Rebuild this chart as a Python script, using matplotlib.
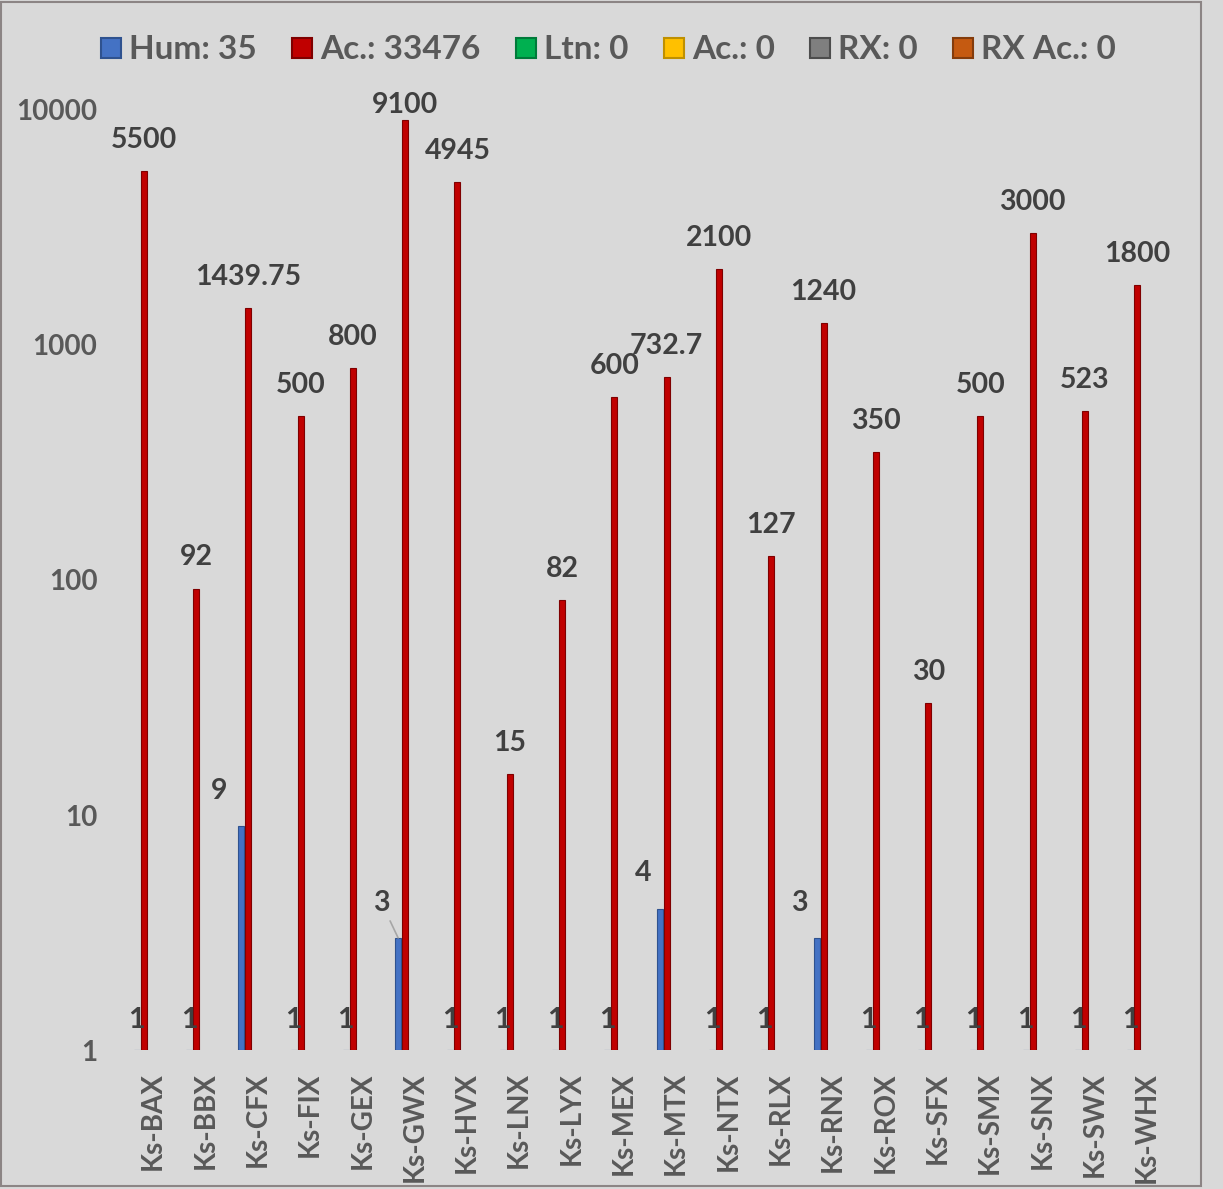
#!/usr/bin/env python3
"""Log-scale grouped bars: Hum vs Ac. per Ks- site."""

import matplotlib
matplotlib.use('Agg')
import matplotlib.pyplot as plt
import matplotlib.transforms as mtransforms
from matplotlib.lines import Line2D
from matplotlib.patches import Rectangle
import numpy as np

plt.rcParams['font.family'] = ['Lato', 'DejaVu Sans']
plt.rcParams['font.weight'] = 'bold'

# data
sites = ['Ks-BAX', 'Ks-BBX', 'Ks-CFX', 'Ks-FIX', 'Ks-GEX', 'Ks-GWX', 'Ks-HVX',
         'Ks-LNX', 'Ks-LYX', 'Ks-MEX', 'Ks-MTX', 'Ks-NTX', 'Ks-RLX', 'Ks-RNX',
         'Ks-ROX', 'Ks-SFX', 'Ks-SMX', 'Ks-SNX', 'Ks-SWX', 'Ks-WHX']
hum = [1, 1, 9, 1, 1, 3, 1, 1, 1, 1, 4, 1, 1, 3, 1, 1, 1, 1, 1, 1]
ac = [5500, 92, 1439.75, 500, 800, 9100, 4945, 15, 82, 600, 732.7, 2100,
      127, 1240, 350, 30, 500, 3000, 523, 1800]
legend_names = ['Hum', 'Ac.', 'Ltn', 'Ac.', 'RX', 'RX Ac.']
legend_totals = [35, 33476, 0, 0, 0, 0]
yticks = [1, 10, 100, 1000, 10000]

COLORS = ['#4472c4', '#c00000', '#00b050', '#ffc000', '#7f7f7f', '#c55a11']
EDGES = ['#2f528f', '#7f0000', '#007a3a', '#bf9000', '#4d4d4d', '#843c0c']
BG = '#d9d9d9'
TICK_C = '#595959'
LABEL_C = '#404040'

fig = plt.figure(figsize=(12.23, 11.89), dpi=100)
fig.set_facecolor(BG)
ax = fig.add_axes([0.0932, 0.1169, 0.8553, 0.7906])
ax.set_facecolor(BG)

x = np.arange(len(sites))
w = 0.115
ax.set_yscale('log')
hum_bars = ax.bar(x - w / 2 - 0.01, [v - 1 for v in hum], width=w, bottom=1,
                  color=COLORS[0], edgecolor=EDGES[0], linewidth=0.8)
ac_bars = ax.bar(x + w / 2 + 0.01, [v - 1 for v in ac], width=w, bottom=1,
                 color=COLORS[1], edgecolor=EDGES[1], linewidth=0.8)

ax.set_xlim(-0.5, len(sites) - 0.5)
ax.set_ylim(1, 10000)

# value labels for Ac. (the tallest one is pushed down to stay inside the chart)
for xi, v in zip(x, ac):
    dy = 1 if v > 8000 else 13
    ax.annotate(f'{v:g}', (xi + w / 2 + 0.01, v), xytext=(0, dy), textcoords='offset points',
                ha='center', va='bottom', fontsize=20.5, color=LABEL_C,
                fontweight='bold', annotation_clip=False)

# value labels for Hum (the >1 ones sit a bit to the left)
for xi, v, name in zip(x, hum, sites):
    bx = xi - w / 2 - 0.01
    if v == 1:
        ax.annotate('1', (bx, v), xytext=(0, 12), textcoords='offset points',
                    ha='center', va='bottom', fontsize=20.5, color=LABEL_C,
                    fontweight='bold')
    else:
        arrow = None
        dx = -12
        if name == 'Ks-GWX':
            arrow = dict(arrowstyle='-', color='#a6a6a6', lw=1.2, shrinkA=2, shrinkB=0)
        if name == 'Ks-CFX':
            dx = -16
        ax.annotate(str(v), (bx, v), xytext=(dx, 16), textcoords='offset points',
                    ha='center', va='bottom', fontsize=20.5, color=LABEL_C,
                    fontweight='bold', arrowprops=arrow)

# axes styling
for s in ax.spines.values():
    s.set_visible(False)
ax.set_yticks(yticks)
ax.set_yticklabels([str(t) for t in yticks])
ax.minorticks_off()
ax.tick_params(axis='y', length=0, pad=12, labelsize=20, labelcolor=TICK_C)
ax.set_xticks(x)
ax.set_xticklabels(sites, rotation=90, fontsize=20, color=TICK_C, fontweight='bold')
ax.tick_params(axis='x', length=0, pad=16)
shift = mtransforms.ScaledTranslation(13 / 100, 0, fig.dpi_scale_trans)
for lab in ax.get_xticklabels():
    lab.set_transform(lab.get_transform() + shift)

# legend
handles = [Line2D([], [], marker='s', linestyle='none', markersize=15,
                  markerfacecolor=c, markeredgecolor=e, markeredgewidth=1.5)
           for c, e in zip(COLORS, EDGES)]
labels = [f'{n}: {t}' for n, t in zip(legend_names, legend_totals)]
leg = fig.legend(handles, labels, loc='center', bbox_to_anchor=(0.497, 0.958),
                 ncol=6, frameon=False, fontsize=24, handletextpad=0.2,
                 columnspacing=1.0, handlelength=0.7)
for t in leg.get_texts():
    t.set_color(TICK_C)
    t.set_fontweight('bold')

# outer border
fig.patches.append(Rectangle((0.0008, 1 - 1186 / 1189), 1200 / 1223, 1184 / 1189,
                             transform=fig.transFigure, fill=False,
                             edgecolor='#8c8585', linewidth=1.5))

fig.savefig('out.png', dpi=100, facecolor=BG)
